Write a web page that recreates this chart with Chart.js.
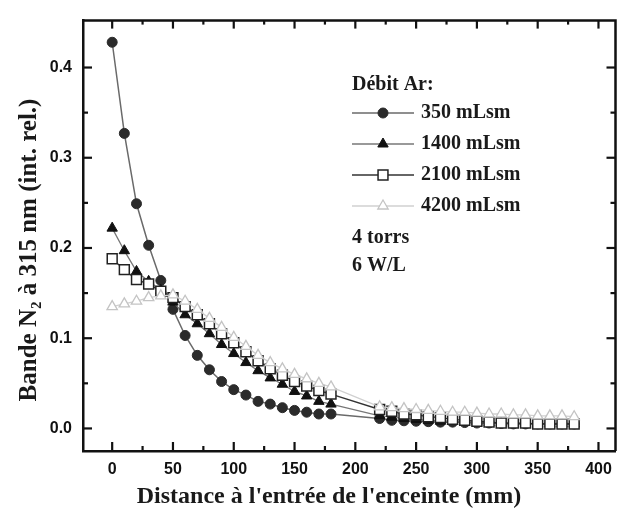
<!DOCTYPE html>
<html>
<head>
<meta charset="utf-8">
<script src="https://cdn.jsdelivr.net/npm/chart.js@4.4.0/dist/chart.umd.min.js"></script>
<style>
  html, body { margin: 0; padding: 0; background: #fff; overflow: hidden; }
  #wrap { width: 624px; height: 517px; }
</style>
</head>
<body>
<div id="wrap"><canvas id="chartN2" width="624" height="517"></canvas></div>
<script>
// Données
const distance = [0, 10, 20, 30, 40, 50, 60, 70, 80, 90, 100, 110, 120, 130, 140, 150, 160, 170, 180,
  220, 230, 240, 250, 260, 270, 280, 290, 300, 310, 320, 330, 340, 350, 360, 370, 380];

const ar350 = [0.428, 0.327, 0.249, 0.203, 0.164, 0.132, 0.103, 0.081, 0.065, 0.052, 0.043, 0.037, 0.030, 0.027, 0.023, 0.020, 0.018, 0.016, 0.016,
  0.011, 0.009, 0.0085, 0.008, 0.0075, 0.007, 0.007, 0.0065, 0.006, 0.006, 0.0055, 0.005, 0.005, 0.005, 0.005, 0.005, 0.005];
const ar1400 = [0.222, 0.197, 0.174, 0.163, 0.153, 0.140, 0.126, 0.116, 0.105, 0.093, 0.083, 0.073, 0.064, 0.056, 0.049, 0.041, 0.036, 0.030, 0.027,
  0.014, 0.0125, 0.011, 0.010, 0.009, 0.008, 0.008, 0.007, 0.007, 0.006, 0.006, 0.006, 0.005, 0.005, 0.005, 0.005, 0.005];
const ar2100 = [0.188, 0.176, 0.165, 0.160, 0.152, 0.145, 0.135, 0.126, 0.116, 0.105, 0.095, 0.085, 0.075, 0.066, 0.059, 0.052, 0.047, 0.042, 0.038,
  0.021, 0.019, 0.016, 0.015, 0.013, 0.012, 0.010, 0.009, 0.008, 0.007, 0.006, 0.006, 0.006, 0.005, 0.005, 0.005, 0.005];
const ar4200 = [0.135, 0.138, 0.141, 0.145, 0.147, 0.148, 0.141, 0.132, 0.122, 0.112, 0.101, 0.091, 0.081, 0.073, 0.066, 0.060, 0.055, 0.050, 0.046,
  0.024, 0.023, 0.022, 0.021, 0.020, 0.019, 0.018, 0.018, 0.017, 0.016, 0.016, 0.015, 0.015, 0.014, 0.014, 0.014, 0.013];

const xMajor = [0, 50, 100, 150, 200, 250, 300, 350, 400];
const xMinor = [25, 75, 125, 175, 225, 275, 325, 375];
const yMajor = [0, 0.1, 0.2, 0.3, 0.4];
const yMinor = [0.05, 0.15, 0.25, 0.35];

const xTitle = "Distance à l'entrée de l'enceinte (mm)";
const yTitle = "Bande N₂ à 315 nm (int. rel.)";
const legendTitle = "Débit Ar:";
const legendNotes = ["4 torrs", "6 W/L"];

const toPoints = (vals) => vals.map((v, i) => ({ x: distance[i], y: v }));

// Cadre complet + graduations vers l'intérieur
const frameTicks = {
  id: "frameTicks",
  afterDraw(chart) {
    const { ctx, chartArea: a, scales: { x, y } } = chart;
    ctx.save();
    ctx.strokeStyle = "#111";
    ctx.lineWidth = 2.5;
    ctx.beginPath();
    ctx.moveTo(a.left, a.top);
    ctx.lineTo(a.right, a.top);
    ctx.lineTo(a.right, a.bottom);
    ctx.stroke();

    const seg = (x1, y1, x2, y2) => {
      ctx.beginPath();
      ctx.moveTo(x1, y1);
      ctx.lineTo(x2, y2);
      ctx.stroke();
    };
    ctx.lineWidth = 2.2;
    xMajor.forEach((v) => {
      const px = x.getPixelForValue(v);
      seg(px, a.bottom, px, a.bottom - 9);
      seg(px, a.top, px, a.top + 8);
    });
    xMinor.forEach((v) => {
      const px = x.getPixelForValue(v);
      seg(px, a.bottom, px, a.bottom - 5);
      seg(px, a.top, px, a.top + 4);
    });
    yMajor.forEach((v) => {
      const py = y.getPixelForValue(v);
      seg(a.left, py, a.left + 9, py);
      seg(a.right, py, a.right - 9, py);
    });
    yMinor.forEach((v) => {
      const py = y.getPixelForValue(v);
      seg(a.left, py, a.left + 5, py);
      seg(a.right, py, a.right - 5, py);
    });

    // titres des axes
    ctx.fillStyle = "#1a1a1a";
    ctx.textAlign = "center";
    ctx.textBaseline = "middle";
    ctx.font = "bold 24px 'Liberation Serif'";
    ctx.fillText(xTitle, 329, 497);
    ctx.translate(30, 250);
    ctx.rotate(-Math.PI / 2);
    ctx.font = "bold 25px 'Liberation Serif'";
    ctx.fillText(yTitle, 0, 0);
    ctx.restore();
  },
};

// Légende dessinée à la main (ligne + symbole)
const legendBox = {
  id: "legendBox",
  afterDraw(chart) {
    const { ctx } = chart;
    const left = 352, lineEnd = 414, textX = 421;
    ctx.save();
    ctx.font = "bold 20px 'Liberation Serif'";
    ctx.fillStyle = "#1a1a1a";
    ctx.textBaseline = "middle";
    ctx.fillText(legendTitle, left, 85);
    chart.data.datasets.forEach((ds, i) => {
      const yy = 113 + i * 31;
      ctx.strokeStyle = ds.borderColor;
      ctx.lineWidth = ds.borderWidth;
      ctx.beginPath();
      ctx.moveTo(left, yy);
      ctx.lineTo(lineEnd, yy);
      ctx.stroke();
      ctx.fillStyle = ds.pointBackgroundColor;
      ctx.strokeStyle = ds.pointBorderColor;
      ctx.lineWidth = ds.pointBorderWidth;
      Chart.helpers.drawPoint(ctx, { pointStyle: ds.pointStyle, radius: ds.pointRadius, rotation: 0, borderWidth: ds.pointBorderWidth }, (left + lineEnd) / 2, yy);
      ctx.fillStyle = "#1a1a1a";
      ctx.fillText(ds.label, textX, yy);
    });
    legendNotes.forEach((t, i) => ctx.fillText(t, left, 238 + i * 28));
    ctx.restore();
  },
};

const ctx = document.getElementById("chartN2").getContext("2d");
new Chart(ctx, {
  type: "line",
  data: {
    datasets: [
      {
        label: "350 mLsm",
        data: toPoints(ar350),
        borderColor: "#6a6a6a",
        borderWidth: 1.5,
        pointStyle: "circle",
        pointRadius: 5,
        pointBackgroundColor: "#2b2b2b",
        pointBorderColor: "#2b2b2b",
        pointBorderWidth: 1,
        order: 4,
      },
      {
        label: "1400 mLsm",
        data: toPoints(ar1400),
        borderColor: "#777",
        borderWidth: 1.3,
        pointStyle: "triangle",
        pointRadius: 6,
        pointBackgroundColor: "#111",
        pointBorderColor: "#111",
        pointBorderWidth: 1,
        order: 3,
      },
      {
        label: "2100 mLsm",
        data: toPoints(ar2100),
        borderColor: "#333",
        borderWidth: 1.3,
        pointStyle: "rect",
        pointRadius: 7,
        pointBackgroundColor: "#fff",
        pointBorderColor: "#222",
        pointBorderWidth: 1.5,
        order: 2,
      },
      {
        label: "4200 mLsm",
        data: toPoints(ar4200),
        borderColor: "#d0d0d0",
        borderWidth: 1.3,
        pointStyle: "triangle",
        pointRadius: 6,
        pointBackgroundColor: "#fff",
        pointBorderColor: "#c4c4c4",
        pointBorderWidth: 1.3,
        order: 1,
      },
    ],
  },
  options: {
    responsive: false,
    animation: false,
    layout: { padding: { top: 12, right: 1, left: 0, bottom: 0 } },
    plugins: { legend: { display: false }, tooltip: { enabled: false } },
    scales: {
      x: {
        type: "linear",
        min: -24,
        max: 414,
        afterBuildTicks: (s) => { s.ticks = xMajor.map((v) => ({ value: v })); },
        afterFit: (s) => { s.height = 66; },
        grid: { display: false, drawTicks: false },
        border: { display: true, color: "#111", width: 2.5 },
        ticks: {
          autoSkip: false,
          maxRotation: 0,
          padding: 9,
          color: "#111",
          font: { family: "'Liberation Sans'", weight: "bold", size: 16 },
        },
      },
      y: {
        type: "linear",
        min: -0.025,
        max: 0.452,
        afterBuildTicks: (s) => { s.ticks = yMajor.map((v) => ({ value: v })); },
        afterFit: (s) => { s.width = 83; },
        grid: { display: false, drawTicks: false },
        border: { display: true, color: "#111", width: 2.5 },
        ticks: {
          autoSkip: false,
          padding: 11,
          color: "#111",
          font: { family: "'Liberation Sans'", weight: "bold", size: 16 },
          callback: (v) => v.toFixed(1),
        },
      },
    },
  },
  plugins: [frameTicks, legendBox],
});
</script>
</body>
</html>
